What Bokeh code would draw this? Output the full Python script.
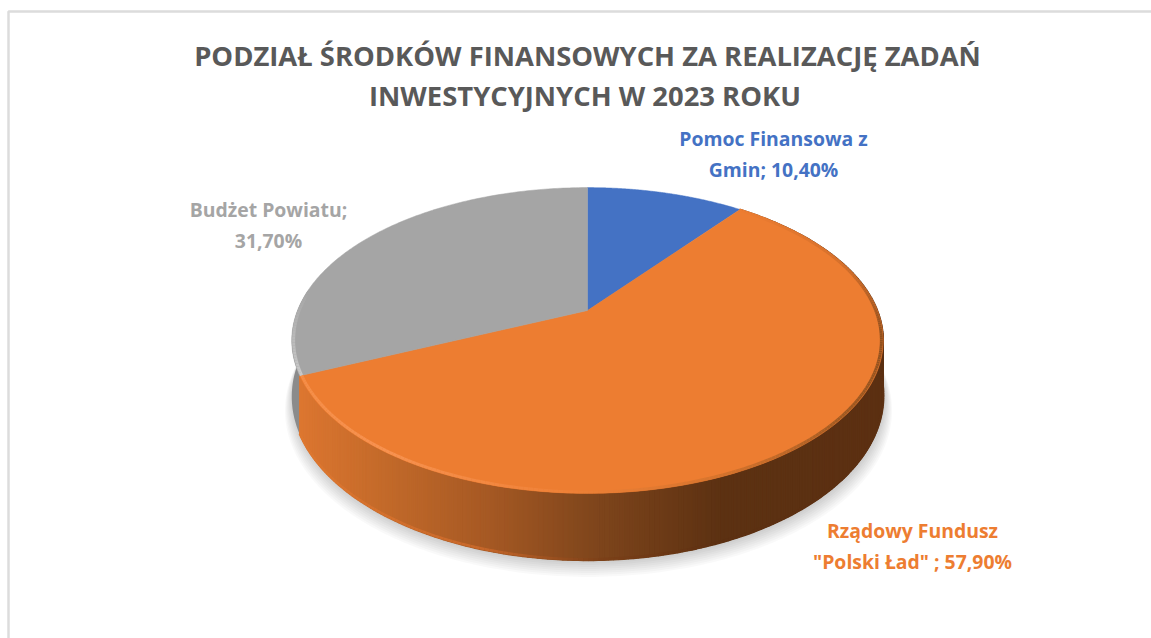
import numpy as np
from bokeh.plotting import figure
from bokeh.models import Range1d
from bokeh.core.properties import value
from bokeh.embed import file_html
from bokeh.resources import INLINE

# ---- data ----
title_lines = ["PODZIAŁ ŚRODKÓW FINANSOWYCH ZA REALIZACJĘ ZADAŃ", "INWESTYCYJNYCH  W 2023 ROKU"]
categories = ["Pomoc Finansowa z Gmin", "Rządowy Fundusz \"Polski Ład\"", "Budżet Powiatu"]
shares = [10.40, 57.90, 31.70]
top_colors = ["#4472C4", "#ED7D31", "#A5A5A5"]
label_lines = [["Pomoc Finansowa z", "Gmin; 10,40%"],
               ["Rządowy Fundusz", "\"Polski Ład\" ; 57,90%"],
               ["Budżet Powiatu;", "31,70%"]]

# ---- layout / projection ----
CX, CY, A, B, K, D = 587.0, 310.0, 290.0, 147.0, 0.196, 54.0
FONT = value("Open Sans")


def proj(theta, drop=0.0, r=1.0):
    w = 1 + K * r * np.cos(theta)
    return CX + A * r * np.sin(theta) / w, CY + (drop - B * r * np.cos(theta)) / w


def hex2rgb(h):
    return np.array([int(h[i:i + 2], 16) for i in (1, 3, 5)], float)


def ramp(x, xs, cols):
    arr = np.array([hex2rgb(c) for c in cols])
    v = [np.interp(x, xs, arr[:, i]) for i in range(3)]
    return "#%02x%02x%02x" % tuple(int(round(c)) for c in v)


p = figure(width=1151, height=638, x_range=Range1d(0, 1151), y_range=Range1d(638, 0),
           output_backend="svg", toolbar_location=None, x_axis_location=None, y_axis_location=None,
           min_border=0, outline_line_color=None, background_fill_color="white", border_fill_color="white")
p.grid.visible = False

# frame of the picture
p.line([8, 8, 1151], [638, 11, 11], line_color="#dcdcdc", line_width=2.5)

# angles
edges = np.deg2rad(np.concatenate([[0], np.cumsum(shares)]) * 3.6)

# soft shadow below
th = np.linspace(0, 2 * np.pi, 361)
for i in range(8):
    sx, sy = proj(th, D + 2 + i * 1.6)
    sx = CX + (sx - CX) * (1.002 + i * 0.0035) + 1
    p.patch(sx, sy, fill_color="#000000", fill_alpha=0.022, line_color=None)

# side wall: grey part
t_g = np.linspace(edges[2], 2 * np.pi, 120)
t_g = t_g[np.cos(t_g) < 0.15]
x1, y1 = proj(t_g)
x2, y2 = proj(t_g, D)
p.patch(np.concatenate([x1, x2[::-1]]), np.concatenate([y1, y2[::-1]]),
        fill_color="#8b8b8b", line_color=None)

# side wall: orange part, shaded strip by strip
t_o = np.linspace(edges[1], edges[2], 260)
xs_s, ys_s, cs_s = [], [], []
grad_x = [300, 380, 480, 590, 720, 900]
grad_c = ["#dc7630", "#c46a2a", "#a85a24", "#80461c", "#5c3112", "#5c3012"]
for a, b in zip(t_o[:-1], t_o[1:]):
    xa, ya = proj(a)
    xb, yb = proj(b)
    xc, yc = proj(b, D)
    xd, yd = proj(a, D)
    xs_s.append([xa, xb, xc, xd])
    ys_s.append([ya, yb, yc, yd])
    cs_s.append(ramp((xa + xb) / 2, grad_x, grad_c))
p.patches(xs_s, ys_s, fill_color=cs_s, line_color=cs_s, line_width=1.4)

# lower bevel of the wall
bx, by, bc = [], [], []
for a, b in zip(t_o[:-1], t_o[1:]):
    xa, ya = proj(a, D - 1)
    xb, yb = proj(b, D - 1)
    bx.append([xa, xb])
    by.append([ya, yb])
    bc.append(ramp((xa + xb) / 2, [300, 480, 600, 720], ["#de7830", "#c8682a", "#7c4018", "#5c3012"]))
p.multi_line(bx, by, line_color=bc, line_width=2.5)

# top faces
for c, s, e in zip(top_colors, edges[:-1], edges[1:]):
    t = np.linspace(s, e, 160)
    x, y = proj(t)
    p.patch(np.concatenate([[CX], x]), np.concatenate([[CY], y]), fill_color=c, line_color=c, line_width=0.5)

# rim bevel of the top face (shade follows the angle round the rim)
deg_stops = [37, 70, 100, 130, 160, 185, 215, 245]
deg_cols = ["#ED7D31", "#d5702c", "#8f4f1e", "#a05a22", "#d8752e", "#f08238", "#f79250", "#f58e48"]
gx, gy, gc = [], [], []
for a, b in zip(t_o[:-1], t_o[1:]):
    xa2, ya2 = proj(a, 0.0, 0.994)
    xb2, yb2 = proj(b, 0.0, 0.994)
    gx.append([xa2, xb2])
    gy.append([ya2, yb2])
    gc.append(ramp(np.rad2deg((a + b) / 2), deg_stops, deg_cols))
p.multi_line(gx, gy, line_color=gc, line_width=3)

# light rim on the grey slice, fading upward
t_r = np.linspace(edges[2], edges[2] + 0.55, 30)
rx, ry, rc = [], [], []
for a, b in zip(t_r[:-1], t_r[1:]):
    xa, ya = proj(a, 0.0, 0.994)
    xb, yb = proj(b, 0.0, 0.994)
    rx.append([xa, xb])
    ry.append([ya, yb])
    rc.append(ramp(a, [t_r[0], t_r[-1]], ["#c8c8c8", "#A5A5A5"]))
p.multi_line(rx, ry, line_color=rc, line_width=3)

# texts
p.text([587], [55], text=[title_lines[0]], text_font=FONT, text_font_style="bold", text_font_size="27.4px",
       text_color="#595959", text_align="center", text_baseline="middle")
p.text([588], [95], text=[title_lines[1]], text_font=FONT, text_font_style="bold", text_font_size="27.4px",
       text_color="#595959", text_align="center", text_baseline="middle")
label_pos = [(773, 138), (912, 530), (268, 209)]
for (lx, ly), lines, c in zip(label_pos, label_lines, top_colors):
    for i, ln in enumerate(lines):
        p.text([lx], [ly + i * 30.5], text=[ln], text_font=FONT, text_font_style="bold",
               text_font_size="19.4px", text_color=c, text_align="center", text_baseline="middle")

open("out.html", "w").write(file_html(p, INLINE))
